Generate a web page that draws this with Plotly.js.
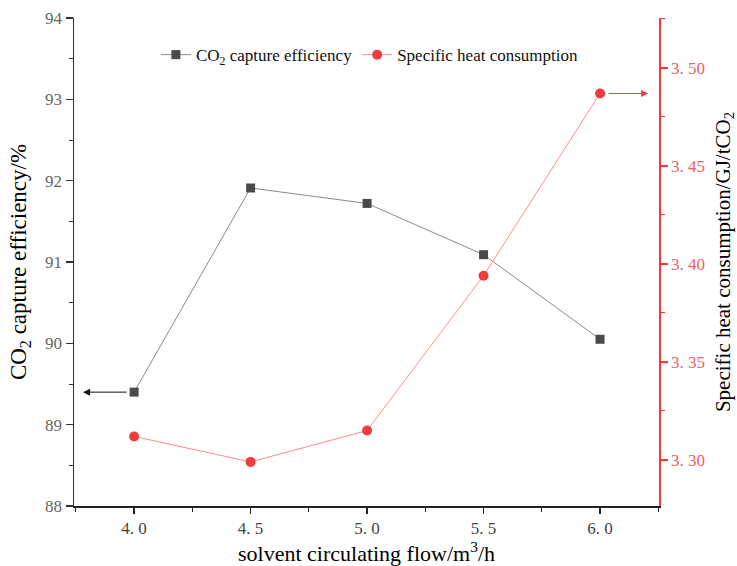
<!DOCTYPE html>
<html>
<head>
<meta charset="utf-8">
<script src="https://cdn.plot.ly/plotly-3.0.1.min.js"></script>
<style>html,body{margin:0;padding:0;background:#fff;}#chart{width:737px;height:566px;}</style>
</head>
<body>
<div id="chart"></div>
<script>
// Data
const flow = [4.0, 4.5, 5.0, 5.5, 6.0];
const captureEfficiency = [89.40, 91.91, 91.72, 91.09, 90.05];
const heatConsumption = [3.312, 3.299, 3.315, 3.394, 3.487];
const xTickVals = [4.0, 4.5, 5.0, 5.5, 6.0];
const xTickText = ['4. 0', '4. 5', '5. 0', '5. 5', '6. 0'];
const y2TickVals = [3.30, 3.35, 3.40, 3.45, 3.50];
const y2TickText = ['3. 30', '3. 35', '3. 40', '3. 45', '3. 50'];

const serif = '"Liberation Serif", "Times New Roman", serif';
const red = '#f03c3c';

const traces = [
  {
    x: flow, y: captureEfficiency, name: 'CO<sub>2</sub> capture efficiency',
    type: 'scatter', mode: 'lines+markers',
    line: {color: '#8a8a8a', width: 1},
    marker: {symbol: 'square', size: 9, color: '#4a4a4a'},
    xaxis: 'x', yaxis: 'y'
  },
  {
    x: flow, y: heatConsumption, name: 'Specific heat consumption',
    type: 'scatter', mode: 'lines+markers',
    line: {color: '#ff8c8c', width: 1},
    marker: {symbol: 'circle', size: 10, color: red},
    xaxis: 'x', yaxis: 'y2'
  }
];

const layout = {
  width: 737, height: 566,
  margin: {l: 74, r: 78, t: 18, b: 60},
  paper_bgcolor: '#fff', plot_bgcolor: '#fff',
  font: {family: serif, color: '#000'},
  showlegend: true,
  legend: {
    orientation: 'h', x: 0.14, y: 0.924, xanchor: 'left', yanchor: 'middle',
    font: {family: serif, size: 17, color: '#111'}, bgcolor: 'rgba(0,0,0,0)',
    itemwidth: 30, tracegroupgap: 0
  },
  xaxis: {
    range: [3.742, 6.253], showgrid: false, zeroline: false,
    showline: true, linecolor: '#222', linewidth: 1.5,
    ticks: 'outside', ticklen: 6, tickcolor: '#222', tickwidth: 1.5,
    tickvals: xTickVals, ticktext: xTickText,
    tickfont: {family: serif, size: 17, color: '#444'},
    minor: {dtick: 0.25, ticks: 'outside', ticklen: 4, tickcolor: '#222', tickwidth: 1},
    title: {text: 'solvent circulating flow/m<sup>3</sup>/h', font: {family: serif, size: 22, color: '#000'}, standoff: 10}
  },
  xaxis2: {
    overlaying: 'x', side: 'top', anchor: 'y', matches: 'x', range: [3.742, 6.253],
    showgrid: false, zeroline: false, showline: true, linecolor: '#222', linewidth: 1.5,
    ticks: 'inside', ticklen: 6, tickcolor: '#222', tickwidth: 1.5,
    tickvals: xTickVals, showticklabels: false
  },
  yaxis: {
    range: [88, 94], showgrid: false, zeroline: false,
    showline: true, linecolor: '#333', linewidth: 1.5,
    ticks: 'outside', ticklen: 7, tickcolor: '#333', tickwidth: 1.5, dtick: 1,
    tickfont: {family: serif, size: 17, color: '#666'},
    minor: {dtick: 0.5, ticks: 'outside', ticklen: 4, tickcolor: '#333', tickwidth: 1},
    title: {text: 'CO<sub>2</sub> capture efficiency/%', font: {family: serif, size: 23, color: '#000'}, standoff: 12}
  },
  yaxis2: {
    overlaying: 'y', side: 'right', anchor: 'x', range: [3.2765, 3.5255],
    showgrid: false, zeroline: false,
    showline: true, linecolor: '#f33', linewidth: 1.5,
    ticks: 'outside', ticklen: 7, tickcolor: '#f33', tickwidth: 1.5,
    tickvals: y2TickVals, ticktext: y2TickText,
    tickfont: {family: serif, size: 17, color: '#f06060'},
    minor: {dtick: 0.025, ticks: 'outside', ticklen: 4, tickcolor: '#f33', tickwidth: 1},
    title: {text: 'Specific heat consumption/GJ/tCO<sub>2</sub>', font: {family: serif, size: 21, color: '#000'}, standoff: 12}
  },
  annotations: [
    {
      xref: 'x', yref: 'y', axref: 'x', ayref: 'y',
      x: 3.781, y: captureEfficiency[0], ax: flow[0], ay: captureEfficiency[0],
      showarrow: true, arrowhead: 2, arrowsize: 1.4, arrowwidth: 1, arrowcolor: '#111',
      startstandoff: 6, text: ''
    },
    {
      xref: 'x', yref: 'y2', axref: 'x', ayref: 'y2',
      x: 6.206, y: heatConsumption[4], ax: flow[4], ay: heatConsumption[4],
      showarrow: true, arrowhead: 2, arrowsize: 1.4, arrowwidth: 1, arrowcolor: red,
      startstandoff: 7, text: ''
    }
  ]
};

Plotly.newPlot('chart', traces, layout, {displayModeBar: false, staticPlot: true});
</script>
</body>
</html>
